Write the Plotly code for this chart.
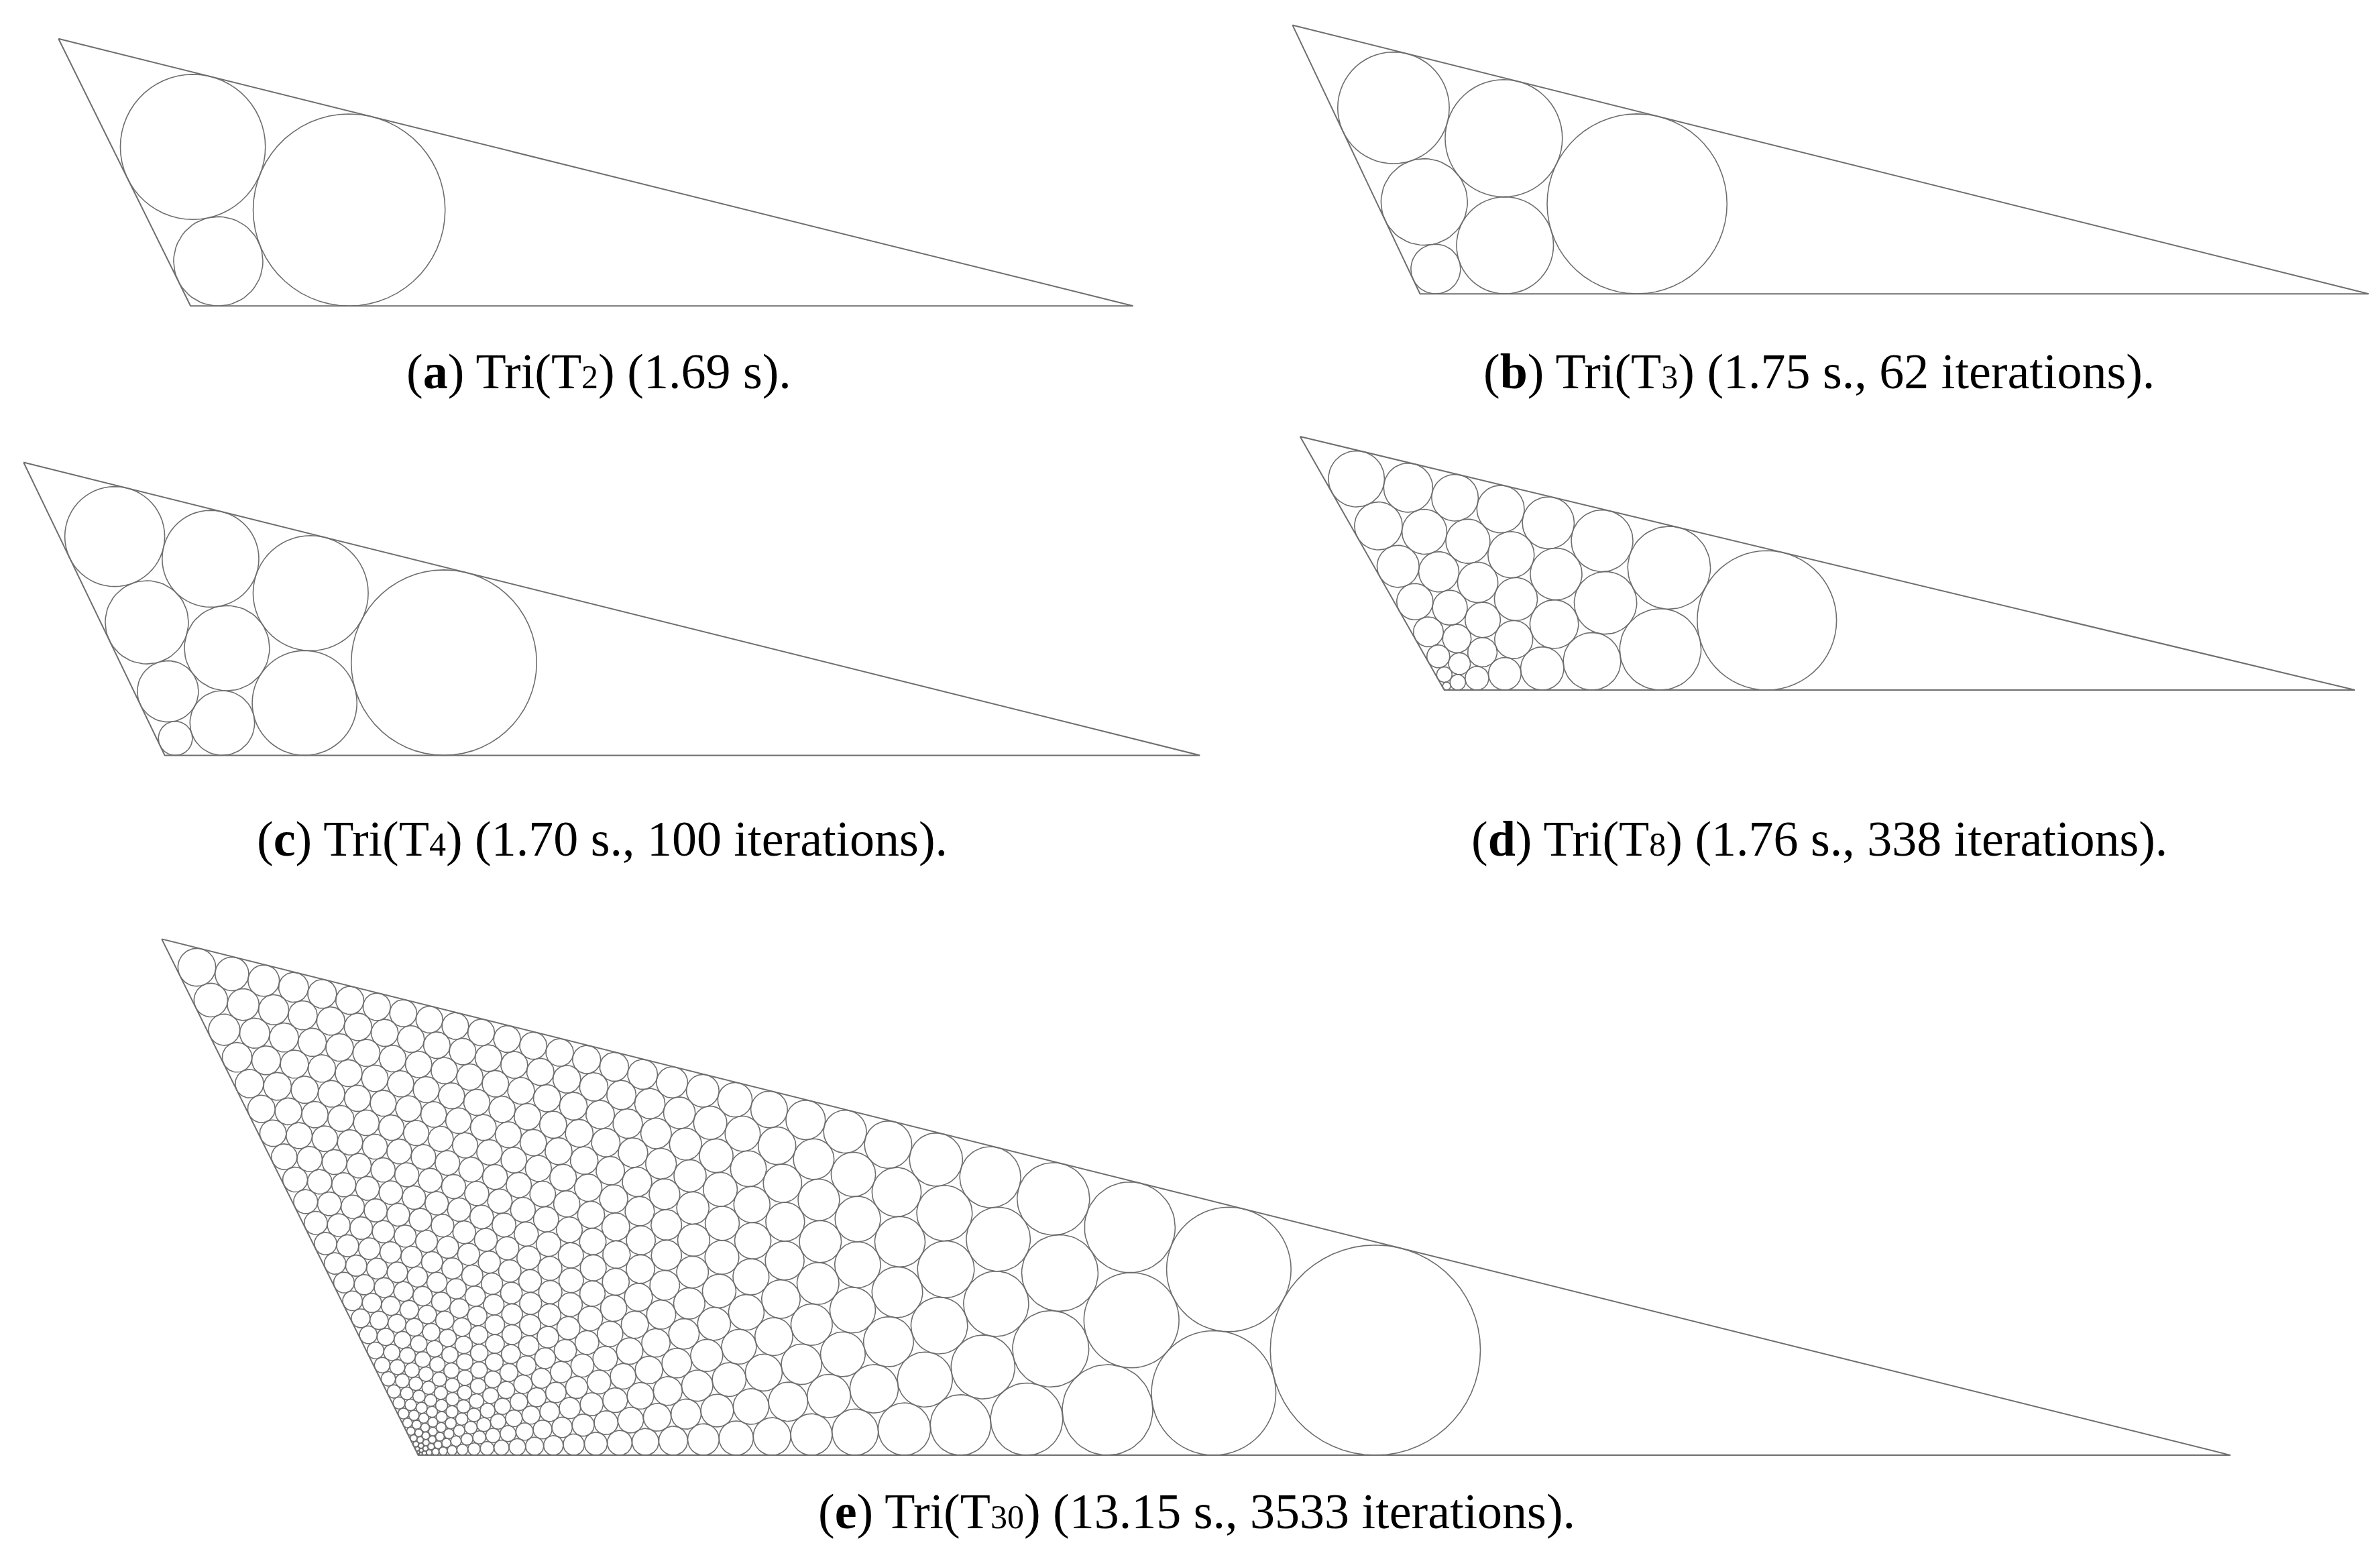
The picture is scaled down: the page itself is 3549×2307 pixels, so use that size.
import numpy as np
import plotly.graph_objects as go

# triangle vertices (A top-left, B bottom-left, C bottom-right) in image pixels (1568 x 1019 frame)
tri_a = [(35, 22), (122, 198), (743, 198)]
tri_b = [(848, 13), (932, 190), (1557, 190)]
tri_c = [(12, 301), (105, 494), (787, 494)]
tri_d = [(853, 284), (948, 451), (1548, 451)]
tri_e = [(103, 615), (272, 955), (1466, 955)]
triangles = [tri_a, tri_b, tri_c, tri_d, tri_e]
orders = [2, 3, 4, 8, 30]
SUB = "<span style='font-size:50px'>{}</span>"
captions = [
    "(<b>a</b>) Tri(T" + SUB.format(2) + ") (1.69 s).",
    "(<b>b</b>) Tri(T" + SUB.format(3) + ") (1.75 s., 62 iterations).",
    "(<b>c</b>) Tri(T" + SUB.format(4) + ") (1.70 s., 100 iterations).",
    "(<b>d</b>) Tri(T" + SUB.format(8) + ") (1.76 s., 338 iterations).",
    "(<b>e</b>) Tri(T" + SUB.format(30) + ") (13.15 s., 3533 iterations).",
]
caption_pos = [(391, 241), (1195, 241), (393, 549), (1195, 549), (785, 992)]

W, H = 1568, 1019


def solve_packing(n, A, B, C):
    # lattice circles (r, c), r + c <= n-1, tangent to neighbours and to the sides
    cells = [(r, c) for r in range(n) for c in range(n - r)]
    idx = {rc: k for k, rc in enumerate(cells)}
    N = len(cells)
    edges = []
    for (r, c), k in idx.items():
        for nb in ((r, c + 1), (r + 1, c), (r + 1, c - 1)):
            if nb in idx:
                edges.append((k, idx[nb]))
    edges = np.array(edges)
    base = [idx[(0, c)] for c in range(n)]
    left = [idx[(r, 0)] for r in range(n)]
    top = [idx[(r, n - 1 - r)] for r in range(n)]

    def lines(V):
        a, b, c = V
        out = []
        for P, Q, members in ((b, c, base), (c, a, top), (a, b, left)):
            d = Q - P
            nrm = np.array([-d[1], d[0]]) / np.hypot(*d)
            out.append((P, nrm, members))
        return out

    # equilateral start: equal circles
    V0 = np.array([[0.5, np.sqrt(3) / 2], [0, 0], [1, 0]])
    rho = 1 / (2 * (n - 1) + 2 * np.sqrt(3))
    z = np.zeros(3 * N)
    for (r, c), k in idx.items():
        p = np.array([rho * np.sqrt(3), rho]) + 2 * rho * (c * np.array([1, 0]) + r * np.array([0.5, np.sqrt(3) / 2]))
        z[3 * k:3 * k + 2] = p
        z[3 * k + 2] = rho
    V1 = np.array([A, B, C], float)

    m = len(edges) + 3 * n
    for t in np.linspace(0, 1, 16)[1:]:
        V = (1 - t) * V0 + t * V1
        L = lines(V)
        for _ in range(20):
            P = z.reshape(N, 3)
            F = np.zeros(m)
            J = np.zeros((m, 3 * N))
            i, j = edges[:, 0], edges[:, 1]
            diff = P[i, :2] - P[j, :2]
            d = np.hypot(diff[:, 0], diff[:, 1])
            u = diff / d[:, None]
            rows = np.arange(len(edges))
            F[rows] = d - P[i, 2] - P[j, 2]
            J[rows, 3 * i] = u[:, 0]
            J[rows, 3 * i + 1] = u[:, 1]
            J[rows, 3 * j] = -u[:, 0]
            J[rows, 3 * j + 1] = -u[:, 1]
            J[rows, 3 * i + 2] = -1
            J[rows, 3 * j + 2] = -1
            row = len(edges)
            for Pt, nrm, members in L:
                for k in members:
                    F[row] = (P[k, :2] - Pt) @ nrm - P[k, 2]
                    J[row, 3 * k] = nrm[0]
                    J[row, 3 * k + 1] = nrm[1]
                    J[row, 3 * k + 2] = -1
                    row += 1
            if np.max(np.abs(F)) < 1e-12:
                break
            step = np.linalg.lstsq(J, -F, rcond=None)[0]
            lam = 1.0
            while np.any(z[2::3] + lam * step[2::3] <= 0) and lam > 1e-4:
                lam /= 2
            z = z + lam * step
    return z.reshape(N, 3)


fig = go.Figure()
theta = np.linspace(0, 2 * np.pi, 61)
for tri, n in zip(triangles, orders):
    A, B, C = [np.array(p, float) for p in tri]
    L = C[0] - B[0]
    to_n = lambda p: ((p[0] - B[0]) / L, (B[1] - p[1]) / L)
    circ = solve_packing(n, to_n(A), (0, 0), to_n(C))
    xs, ys = [], []
    for cx, cy, r in circ:
        xs += list(B[0] + L * (cx + r * np.cos(theta))) + [None]
        ys += list(B[1] - L * (cy + r * np.sin(theta))) + [None]
    fig.add_trace(go.Scatter(x=xs, y=ys, mode="lines", line=dict(color="#6e6e6e", width=1.6),
                             hoverinfo="skip", showlegend=False))
    fig.add_trace(go.Scatter(x=[A[0], B[0], C[0], A[0]], y=[A[1], B[1], C[1], A[1]], mode="lines",
                             line=dict(color="#6e6e6e", width=2), hoverinfo="skip", showlegend=False))

for text, (x, y) in zip(captions, caption_pos):
    fig.add_annotation(x=x, y=y, text=text, showarrow=False, xanchor="center", yanchor="middle",
                       font=dict(family="Liberation Serif", size=74, color="black"))

fig.update_xaxes(range=[0, W], visible=False)
fig.update_yaxes(range=[H, 0], visible=False)
fig.update_layout(width=3549, height=2307, margin=dict(l=0, r=0, t=0, b=0),
                  plot_bgcolor="white", paper_bgcolor="white")
fig.write_html("out.html")
